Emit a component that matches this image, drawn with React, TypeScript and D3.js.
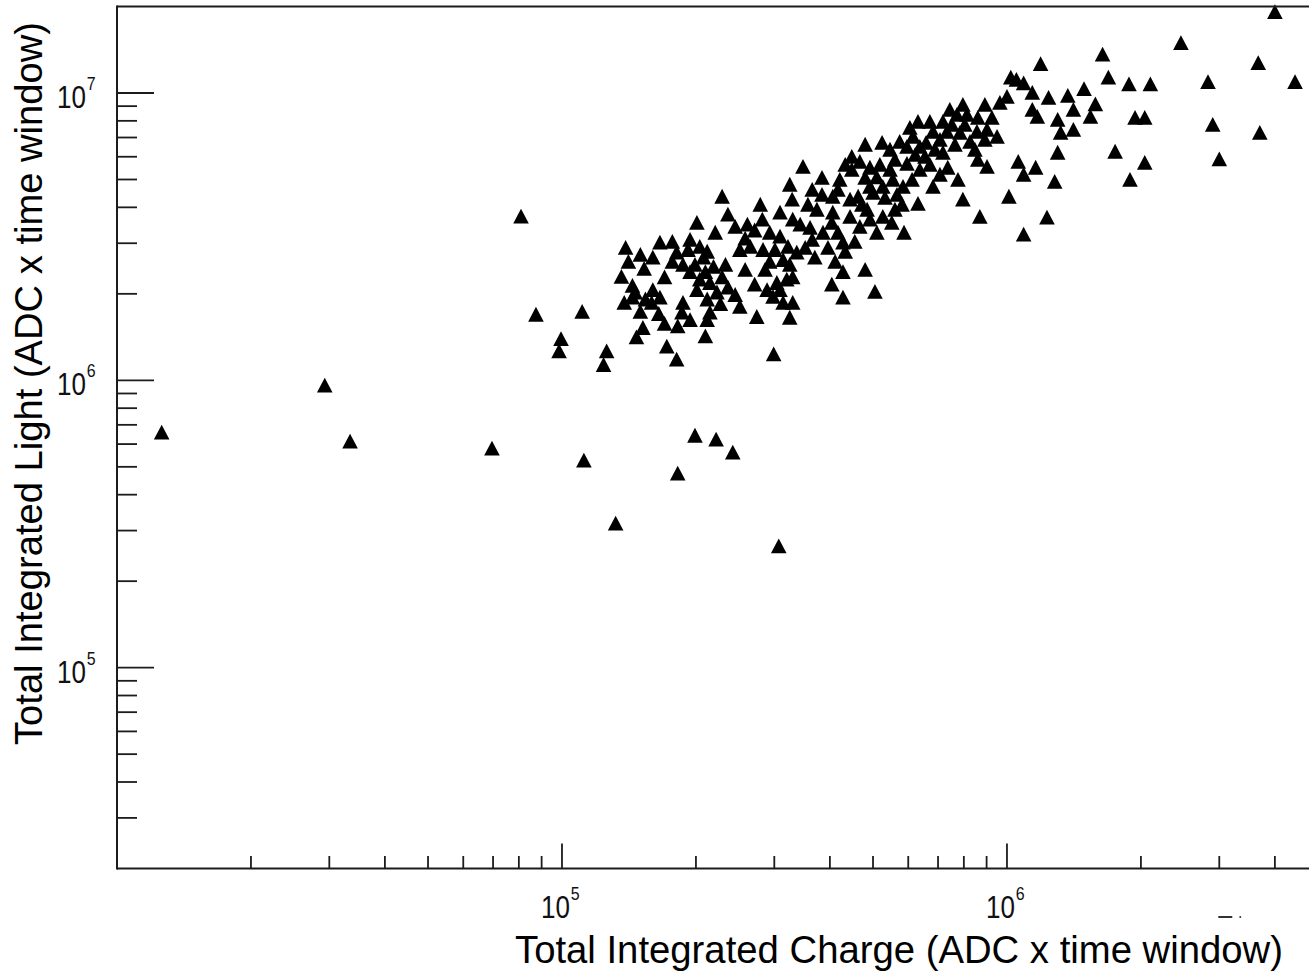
import React from 'react';
import * as d3 from 'd3';

// ---- data ----
const xDomain: [number, number] = [1e4, 5e6];
const yDomain: [number, number] = [2e4, 2e7];

const xMajorTicks = [1e5, 1e6];
const xMinorTicks = [2e4, 3e4, 4e4, 5e4, 6e4, 7e4, 8e4, 9e4, 2e5, 3e5, 4e5, 5e5, 6e5, 7e5, 8e5, 9e5, 2e6, 3e6, 4e6];
const yMajorTicks = [1e5, 1e6, 1e7];
const yMinorTicks = [3e4, 4e4, 5e4, 6e4, 7e4, 8e4, 9e4, 2e5, 3e5, 4e5, 5e5, 6e5, 7e5, 8e5, 9e5, 2e6, 3e6, 4e6, 5e6, 6e6, 7e6, 8e6, 9e6];

const xTitle = 'Total Integrated Charge (ADC x time window)';
const yTitle = 'Total Integrated Light (ADC x time window)';

// [charge, light]
const outlierEvents: [number, number][] = [
  [1.26e4, 6.57e5], [2.93e4, 9.57e5], [3.34e4, 6.11e5], [6.96e4, 5.78e5], [8.09e4, 3.71e6],
  [8.74e4, 1.69e6], [9.95e4, 1.39e6], [9.85e4, 1.26e6], [1.11e5, 1.73e6], [1.12e5, 5.25e5],
  [1.32e5, 3.17e5], [1.99e5, 6.41e5], [2.22e5, 6.21e5], [2.42e5, 5.60e5], [1.82e5, 4.73e5],
  [3.07e5, 2.64e5], [2.99e5, 1.23e6], [1.26e5, 1.26e6], [1.24e5, 1.13e6],
];

const lowCluster: [number, number][] = [
  [1.39e5, 2.89e6], [1.66e5, 3.01e6], [1.60e5, 2.67e6], [1.53e5, 2.44e6], [1.36e5, 2.29e6],
  [1.44e5, 2.13e6], [1.70e5, 2.28e6], [1.46e5, 2.02e6], [1.38e5, 1.86e6], [1.44e5, 1.94e6],
  [1.60e5, 2.06e6], [1.66e5, 1.94e6], [1.59e5, 1.86e6], [1.65e5, 1.70e6], [1.70e5, 1.57e6],
  [1.52e5, 1.52e6], [1.47e5, 1.41e6], [1.72e5, 1.31e6], [2.29e5, 4.35e6], [2.36e5, 3.77e6],
  [2.45e5, 3.42e6], [2.61e5, 3.48e6], [2.01e5, 3.53e6], [2.21e5, 3.26e6], [1.81e5, 2.78e6],
  [1.92e5, 2.84e6], [2.04e5, 2.91e6], [2.12e5, 2.80e6], [1.87e5, 2.52e6], [1.99e5, 2.52e6],
  [2.19e5, 2.48e6], [2.33e5, 2.52e6], [2.51e5, 2.84e6], [2.65e5, 2.91e6], [2.01e5, 2.06e6],
  [2.15e5, 2.18e6], [2.23e5, 2.02e6], [2.36e5, 2.10e6], [2.12e5, 1.91e6], [1.87e5, 1.86e6],
  [1.86e5, 1.72e6], [1.82e5, 1.54e6], [2.15e5, 1.72e6], [2.12e5, 1.62e6], [2.51e5, 1.80e6],
  [2.74e5, 1.66e6], [1.81e5, 1.18e6], [2.10e5, 1.42e6],
];

const midCluster: [number, number][] = [
  [2.82e5, 3.62e6], [2.83e5, 2.84e6], [2.93e5, 3.26e6], [2.86e5, 2.42e6], [2.89e5, 2.06e6],
  [2.98e5, 1.95e6], [3.48e5, 5.53e6], [3.25e5, 4.79e6], [3.29e5, 4.25e6], [3.84e5, 5.06e6],
  [4.21e5, 4.98e6], [3.84e5, 4.42e6], [4.06e5, 4.35e6], [4.48e5, 5.99e6], [4.80e5, 6.60e6],
  [5.24e5, 6.70e6], [4.48e5, 5.40e6], [4.67e5, 5.75e6], [4.92e5, 5.49e6], [5.10e5, 5.08e6],
  [5.46e5, 5.40e6], [5.54e5, 4.98e6], [4.92e5, 4.71e6], [5.26e5, 4.71e6], [4.63e5, 4.35e6],
  [5.00e5, 4.49e6], [3.74e5, 3.92e6], [4.06e5, 3.83e6], [4.44e5, 3.70e6], [4.85e5, 3.92e6],
  [4.92e5, 3.62e6], [5.26e5, 3.70e6], [5.51e5, 3.53e6], [5.10e5, 3.26e6], [4.67e5, 3.42e6],
  [3.09e5, 3.83e6], [3.30e5, 3.62e6], [3.43e5, 3.48e6], [3.61e5, 3.39e6], [3.86e5, 3.26e6],
  [4.04e5, 3.53e6], [4.17e5, 3.26e6], [4.28e5, 3.01e6], [4.55e5, 3.03e6], [4.33e5, 2.80e6],
  [3.09e5, 3.16e6], [3.22e5, 2.91e6], [3.37e5, 2.78e6], [3.52e5, 2.89e6], [3.14e5, 2.62e6],
  [3.04e5, 2.18e6], [3.20e5, 2.24e6], [3.30e5, 2.28e6], [3.14e5, 1.86e6], [3.30e5, 1.86e6],
  [4.28e5, 2.38e6], [4.80e5, 2.42e6], [4.04e5, 2.15e6], [4.28e5, 1.94e6], [5.05e5, 2.03e6],
  [3.25e5, 1.65e6],
];

const highCluster: [number, number][] = [
  [5.74e5, 6.75e6], [6.31e5, 7.93e6], [6.15e5, 7.03e6], [6.58e5, 6.70e6], [5.96e5, 6.49e6],
  [6.37e5, 6.49e6], [6.54e5, 5.99e6], [5.96e5, 5.66e6], [6.37e5, 5.40e6], [5.84e5, 4.71e6],
  [5.81e5, 4.08e6], [6.31e5, 4.11e6], [5.87e5, 3.26e6], [6.71e5, 7.93e6], [6.82e5, 7.32e6],
  [6.82e5, 4.71e6], [7.18e5, 7.93e6], [7.72e5, 8.38e6], [8.13e5, 8.38e6], [8.60e5, 8.19e6],
  [9.25e5, 8.19e6], [7.84e5, 7.26e6], [8.56e5, 7.32e6], [9.02e5, 7.44e6], [9.50e5, 7.03e6],
  [8.26e5, 6.75e6], [7.33e5, 7.32e6], [7.07e5, 6.86e6], [7.18e5, 6.19e6], [7.96e5, 9.08e6],
  [8.60e5, 5.85e6], [9.02e5, 5.53e6], [7.96e5, 4.25e6], [8.69e5, 3.70e6],
];

// overlapping markers inside the densest blobs
const denseCoreEvents: [number, number][] = [
  [1.77e5, 3.03e6], [1.94e5, 3.08e6], [2.08e5, 2.67e6], [1.77e5, 2.58e6], [1.94e5, 2.38e6],
  [2.10e5, 2.38e6], [2.04e5, 2.24e6], [2.29e5, 2.28e6], [2.45e5, 1.98e6], [2.27e5, 1.84e6],
  [2.58e5, 3.11e6], [2.71e5, 3.32e6], [4.80e5, 5.06e6], [5.18e5, 5.62e6], [5.60e5, 5.85e6],
  [5.32e5, 4.31e6], [5.66e5, 4.42e6], [4.72e5, 4.08e6], [3.65e5, 3.08e6], [3.96e5, 2.89e6],
  [3.70e5, 2.67e6], [4.11e5, 2.58e6], [7.52e5, 7.74e6], [8.04e5, 7.74e6], [8.92e5, 6.86e6],
  [7.64e5, 6.60e6], [8.47e5, 6.34e6], [6.22e5, 6.09e6], [6.71e5, 5.62e6], [6.12e5, 4.98e6],
  [6.89e5, 6.34e6], [5.46e5, 6.34e6], [6.05e5, 7.56e6], [3.01e5, 2.84e6], [2.93e5, 2.58e6],
  [3.25e5, 2.52e6], [3.09e5, 2.06e6], [1.50e5, 2.73e6], [1.41e5, 2.58e6], [1.54e5, 1.91e6],
  [1.50e5, 1.73e6], [4.33e5, 5.62e6], [4.17e5, 4.60e6], [4.44e5, 4.25e6], [3.57e5, 4.08e6],
  [3.65e5, 4.60e6], [7.36e5, 5.49e6], [7.76e5, 4.98e6], [7.07e5, 5.19e6], [7.44e5, 8.73e6],
  [8.92e5, 9.08e6], [5.60e5, 3.92e6], [2.79e5, 4.08e6], [2.58e5, 2.42e6], [2.71e5, 2.15e6],
  [1.94e5, 1.62e6],
];

const tailEvents: [number, number][] = [
  [9.64e5, 9.23e6], [1.00e6, 9.69e6], [1.02e6, 1.13e7], [1.05e6, 1.11e7], [1.09e6, 1.08e7],
  [1.14e6, 1.00e7], [1.19e6, 1.26e7], [1.24e6, 9.61e6], [1.37e6, 9.76e6], [1.49e6, 1.03e7],
  [1.58e6, 9.12e6], [1.14e6, 8.73e6], [1.17e6, 8.25e6], [1.30e6, 8.06e6], [1.32e6, 7.26e6],
  [1.30e6, 6.19e6], [1.41e6, 8.73e6], [1.54e6, 8.25e6], [1.41e6, 7.44e6], [1.06e6, 5.75e6],
  [1.09e6, 5.19e6], [1.16e6, 5.49e6], [1.01e6, 4.35e6], [1.28e6, 4.90e6], [1.23e6, 3.68e6],
  [1.09e6, 3.21e6], [1.64e6, 1.36e7], [1.69e6, 1.13e7], [1.88e6, 1.07e7], [2.10e6, 1.07e7],
  [1.94e6, 8.19e6], [2.04e6, 8.19e6], [1.75e6, 6.24e6], [2.04e6, 5.71e6], [1.89e6, 4.98e6],
  [2.46e6, 1.49e7], [2.83e6, 1.09e7], [2.90e6, 7.74e6], [3.00e6, 5.87e6], [3.67e6, 1.27e7],
  [3.70e6, 7.26e6], [4.00e6, 1.91e7], [4.44e6, 1.09e7],
];

const allEvents = [...outlierEvents, ...lowCluster, ...midCluster, ...highCluster, ...denseCoreEvents, ...tailEvents];

// ---- layout ----
const W = 1309;
const H = 973;
const FRAME = { left: 117, right: 1318, top: 6.5, bottom: 868.5 };
const AXIS_COLOR = '#1c1c1c';
const FONT = "'Liberation Sans', Arial, Helvetica, sans-serif";

const triangle = 'M0,-8L7.8,6.8L-7.8,6.8Z';

function PowerLabel({ x, y, exp, anchorEnd }: { x: number; y: number; exp: string; anchorEnd: boolean }) {
  // "10" plus a raised exponent, horizontally condensed like the reference
  const w = 44; // approximate width of the whole label after condensing
  const left = anchorEnd ? x - w : x - w / 2;
  return (
    <text transform={`translate(${left},${y}) scale(0.84,1)`} fontSize={31} fill="#111">
      10
      <tspan fontSize={19} dy={-18} dx={1}>{exp}</tspan>
    </text>
  );
}

export default function App() {
  const x = d3.scaleLog().domain(xDomain).range([FRAME.left, FRAME.right]);
  const y = d3.scaleLog().domain(yDomain).range([FRAME.bottom, FRAME.top]);
  const exp = (v: number) => String(Math.round(Math.log10(v)));

  return (
    <svg
      width={W}
      height={H}
      viewBox={`0 0 ${W} ${H}`}
      style={{ position: 'absolute', left: 0, top: 0, background: '#ffffff' }}
      fontFamily={FONT}
    >
      <rect x={0} y={0} width={W} height={H} fill="#ffffff" />

      {/* markers */}
      <g fill="#000">
        {allEvents.map((d, i) => (
          <path key={i} d={triangle} transform={`translate(${x(d[0])},${y(d[1])})`} />
        ))}
      </g>

      {/* frame */}
      <g stroke={AXIS_COLOR} strokeWidth={2} fill="none">
        <line x1={FRAME.left} x2={FRAME.right} y1={FRAME.top} y2={FRAME.top} />
        <line x1={FRAME.right} x2={FRAME.right} y1={FRAME.top} y2={FRAME.bottom} />
        <line x1={FRAME.left} x2={FRAME.right + 1} y1={FRAME.bottom} y2={FRAME.bottom} />
        <line x1={FRAME.left} x2={FRAME.left} y1={FRAME.top - 1} y2={FRAME.bottom + 1} />
      </g>

      {/* ticks */}
      <g stroke={AXIS_COLOR} strokeWidth={1.8}>
        {xMajorTicks.map((t) => (
          <line key={'xM' + t} x1={x(t)} x2={x(t)} y1={FRAME.bottom} y2={FRAME.bottom - 25} />
        ))}
        {xMinorTicks.map((t) => (
          <line key={'xm' + t} x1={x(t)} x2={x(t)} y1={FRAME.bottom} y2={FRAME.bottom - 12.5} />
        ))}
        {yMajorTicks.map((t) => (
          <line key={'yM' + t} x1={FRAME.left} x2={FRAME.left + 37} y1={y(t)} y2={y(t)} />
        ))}
        {yMinorTicks.map((t) => (
          <line key={'ym' + t} x1={FRAME.left} x2={FRAME.left + 20} y1={y(t)} y2={y(t)} />
        ))}
      </g>

      {/* x tick labels */}
      {xMajorTicks.map((t) => (
        <PowerLabel key={'xl' + t} x={x(t) + 1} y={918} exp={exp(t)} anchorEnd={false} />
      ))}

      {/* y tick labels */}
      {yMajorTicks.map((t) => (
        <PowerLabel key={'yl' + t} x={101} y={y(t) + 15} exp={exp(t)} anchorEnd={true} />
      ))}

      {/* small fragment near the bottom right */}
      <g fill="#333" stroke="#333">
        <line x1={x(3e6) - 1} x2={x(3e6) + 13} y1={917} y2={917} strokeWidth={2} />
        <circle cx={x(3e6) + 21} cy={917} r={1} strokeWidth={0} />
      </g>

      {/* axis titles */}
      <text x={1283} y={963} fontSize={38} textAnchor="end" fill="#000" textLength={768} lengthAdjust="spacingAndGlyphs">
        {xTitle}
      </text>
      <text
        transform={`translate(42,22) rotate(-90)`}
        fontSize={38}
        textAnchor="end"
        fill="#000"
        textLength={723}
        lengthAdjust="spacingAndGlyphs"
      >
        {yTitle}
      </text>
    </svg>
  );
}
